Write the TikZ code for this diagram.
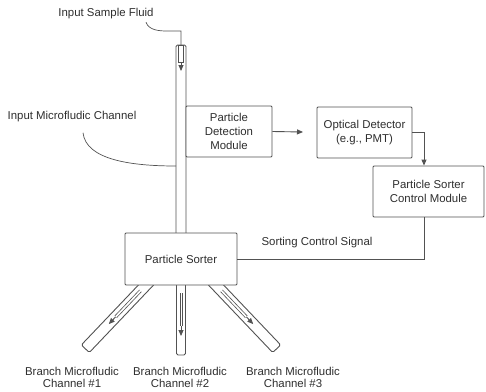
\documentclass[tikz,border=0pt]{standalone}
\usepackage{fontspec}
\setmainfont{Liberation Sans}
\usetikzlibrary{arrows.meta,calc}
\definecolor{ln}{gray}{0.32}
\definecolor{tx}{gray}{0.18}
\begin{document}
\begin{tikzpicture}[x=1pt,y=-1pt,line width=0.9pt,
  every node/.style={font=\fontsize{11.4}{14}\selectfont,text=tx},
  box/.style={draw=ln,fill=white,rounded corners=1pt,align=center,inner sep=0pt},
  lbl/.style={align=center,inner sep=0pt},
  brl/.style={lbl,font=\fontsize{11.4}{12}\selectfont},
  arr/.style={-{Triangle[length=6pt,width=5pt]}},
  chan/.style={draw=ln,rounded corners=1.5pt},
  inner/.style={draw=ln,line width=0.6pt}]
\useasboundingbox (0,0) rectangle (486,391);
% channels
\draw[chan] (176,240) -- (176,45) -- (186,45) -- (186,240);
\draw[inner] (178.5,45) rectangle (183.5,62);
\draw[ln,arr] (181,62) -- (181,71);
\draw[chan] (176.5,280) -- (176.5,355) -- (185.5,355) -- (185.5,280);
\draw[inner] (179.8,293) -- (179.8,326) (182.3,293) -- (182.3,326);
\draw[ln,arr] (181,326) -- (181,336);
\begin{scope}[shift={(146,285)},rotate=-43.6]
  \draw[chan] (-5.5,-12) -- (-5.5,88) -- (5.5,88) -- (5.5,-12);
  \draw[inner] (-1.3,8) -- (-1.3,44) (1.3,8) -- (1.3,44);
  \draw[ln,arr] (0,44) -- (0,54);
\end{scope}
\begin{scope}[shift={(216,285)},rotate=43.6]
  \draw[chan] (-5.5,-12) -- (-5.5,88) -- (5.5,88) -- (5.5,-12);
  \draw[inner] (-1.3,8) -- (-1.3,44) (1.3,8) -- (1.3,44);
  \draw[ln,arr] (0,44) -- (0,54);
\end{scope}
% boxes
\node[box,minimum width=86pt,minimum height=51pt] (pdm) at (229,131.5) {Particle\\Detection\\Module};
\node[box,minimum width=95pt,minimum height=51pt] (opt) at (364.5,132.5) {Optical Detector\\(e.g., PMT)};
\node[box,minimum width=111pt,minimum height=51pt] (ctrl) at (428.5,191.5) {Particle Sorter\\Control Module};
\node[box,minimum width=112pt,minimum height=52pt] (sorter) at (181,259) {Particle Sorter};
% labels
\node[lbl] (isf) at (106,13.5) {Input Sample Fluid};
\node[lbl] (imc) at (72,117) {Input Microfludic Channel};
\node[lbl] (scs) at (317,243) {Sorting Control Signal};
\node[brl] (b1) at (72,377.5) {Branch Microfludic\\Channel \#1};
\node[brl] (b2) at (180,377.5) {Branch Microfludic\\Channel \#2};
\node[brl] (b3) at (293,377.5) {Branch Microfludic\\Channel \#3};
% connectors
\coordinate (inlet) at (181,45);
\coordinate (wall) at (176,166);
\coordinate (pdmtip) at (303,132);
\draw[ln,line width=0.7pt] ($(isf.south east)+(-8,3)$) .. controls +(3,8) and +(-8,0) .. (167,31) -- (181,31) -- (inlet);
\draw[ln,line width=0.7pt] ($(imc.south)+(11,10)$) .. controls +(3,27) and +(-45,0) .. (wall);
\draw[ln,arr] (pdm.east) -- (pdmtip);
\draw[ln,arr] (opt.east) -| ($(ctrl.north)+(-4.5,0)$);
\draw[ln] ($(ctrl.south)+(-4,0)$) |- (sorter.east);
\end{tikzpicture}
\end{document}
